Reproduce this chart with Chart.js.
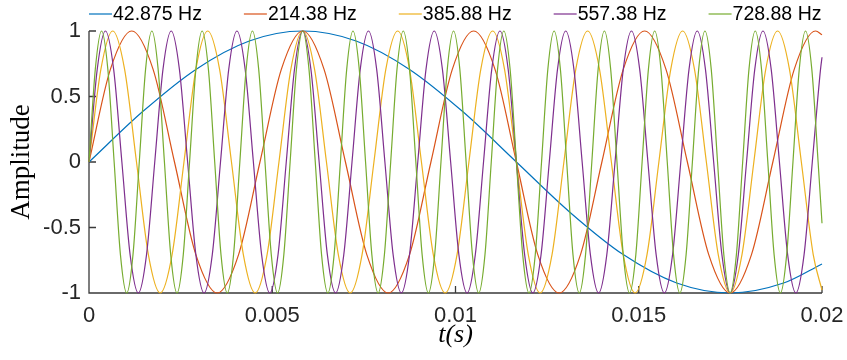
<!DOCTYPE html>
<html>
<head>
<meta charset="utf-8">
<title>Sine components</title>
<script src="https://cdn.jsdelivr.net/npm/chart.js@4.4.1/dist/chart.umd.min.js"></script>
<style>
  html, body { margin: 0; padding: 0; background: #fff; }
  #wrap { width: 847px; height: 360px; }
</style>
</head>
<body>
<div id="wrap"><canvas id="myChart" width="847" height="360"></canvas></div>
<script>
"use strict";

// legend labels and line colours (MATLAB default order)
const seriesNames = ["42.875 Hz", "214.38 Hz", "385.88 Hz", "557.38 Hz", "728.88 Hz"];
const seriesColors = ["#0072BD", "#D95319", "#EDB120", "#7E2F8E", "#77AC30"];

// axis ticks
const xTicks = [0, 0.005, 0.01, 0.015, 0.02];
const yTicks = [-1, -0.5, 0, 0.5, 1];

// sample times in ms (peaks, crossings and the points between)
const time1 = [0, 1.4577, 2.9155, 4.3732, 5.8309, 7.2886, 8.7464, 10.2041,
  11.6618, 13.1195, 14.5773, 16.0350, 17.4927, 18.9504, 20];
const amp1 = [0, 0.383, 0.707, 0.924, 1, 0.924, 0.707, 0.383,
  0, -0.383, -0.707, -0.924, -1, -0.924, -0.778];

const time2 = [0, 0.5831, 1.1662, 1.7493, 2.3324, 2.9155, 3.4985, 4.0816,
  4.6647, 5.2478, 5.8309, 6.4140, 6.9971, 7.5802, 8.1633, 8.7464,
  9.3294, 9.9125, 10.4956, 11.0787, 11.6618, 12.2449, 12.8280, 13.4111,
  13.9942, 14.5773, 15.1603, 15.7434, 16.3265, 16.9096, 17.4927, 18.0758,
  18.6589, 19.2420, 19.8251, 20];
const amp2 = [0, 0.707, 1, 0.707, 0, -0.707, -1, -0.707,
  0, 0.707, 1, 0.707, 0, -0.707, -1, -0.707,
  0, 0.707, 1, 0.707, 0, -0.707, -1, -0.707,
  0, 0.707, 1, 0.707, 0, -0.707, -1, -0.707,
  0, 0.707, 1, 0.972];

const time3 = [0, 0.3239, 0.6479, 0.9718, 1.2958, 1.6197, 1.9437, 2.2676,
  2.5915, 2.9155, 3.2394, 3.5634, 3.8873, 4.2112, 4.5352, 4.8591,
  5.1831, 5.5070, 5.8309, 6.1549, 6.4788, 6.8028, 7.1267, 7.4507,
  7.7746, 8.0985, 8.4225, 8.7464, 9.0704, 9.3943, 9.7183, 10.0422,
  10.3661, 10.6901, 11.0140, 11.3380, 11.6619, 11.9858, 12.3098, 12.6337,
  12.9577, 13.2816, 13.6056, 13.9295, 14.2534, 14.5774, 14.9013, 15.2253,
  15.5492, 15.8731, 16.1971, 16.5210, 16.8450, 17.1689, 17.4929, 17.8168,
  18.1407, 18.4647, 18.7886, 19.1126, 19.4365, 19.7604, 20];
const amp3 = [0, 0.707, 1, 0.707, 0, -0.707, -1, -0.707,
  0, 0.707, 1, 0.707, 0, -0.707, -1, -0.707,
  0, 0.707, 1, 0.707, 0, -0.707, -1, -0.707,
  0, 0.707, 1, 0.707, 0, -0.707, -1, -0.707,
  0, 0.707, 1, 0.707, 0, -0.707, -1, -0.707,
  0, 0.707, 1, 0.707, 0, -0.707, -1, -0.707,
  0, 0.707, 1, 0.707, 0, -0.707, -1, -0.707,
  0, 0.707, 1, 0.707, 0, -0.707, -0.978];

const time4 = [0, 0.2243, 0.4485, 0.6728, 0.8971, 1.1213, 1.3456, 1.5699,
  1.7941, 2.0184, 2.2427, 2.4669, 2.6912, 2.9155, 3.1397, 3.3640,
  3.5882, 3.8125, 4.0368, 4.2610, 4.4853, 4.7096, 4.9338, 5.1581,
  5.3824, 5.6066, 5.8309, 6.0552, 6.2794, 6.5037, 6.7280, 6.9522,
  7.1765, 7.4008, 7.6250, 7.8493, 8.0736, 8.2978, 8.5221, 8.7464,
  8.9706, 9.1949, 9.4192, 9.6434, 9.8677, 10.0920, 10.3162, 10.5405,
  10.7647, 10.9890, 11.2133, 11.4375, 11.6618, 11.8861, 12.1103, 12.3346,
  12.5589, 12.7831, 13.0074, 13.2317, 13.4559, 13.6802, 13.9045, 14.1287,
  14.3530, 14.5773, 14.8015, 15.0258, 15.2501, 15.4743, 15.6986, 15.9229,
  16.1471, 16.3714, 16.5957, 16.8199, 17.0442, 17.2685, 17.4927, 17.7170,
  17.9412, 18.1655, 18.3898, 18.6140, 18.8383, 19.0626, 19.2868, 19.5111,
  19.7354, 19.9596, 20];
const amp4 = [0, 0.707, 1, 0.707, 0, -0.707, -1, -0.707,
  0, 0.707, 1, 0.707, 0, -0.707, -1, -0.707,
  0, 0.707, 1, 0.707, 0, -0.707, -1, -0.707,
  0, 0.707, 1, 0.707, 0, -0.707, -1, -0.707,
  0, 0.707, 1, 0.707, 0, -0.707, -1, -0.707,
  0, 0.707, 1, 0.707, 0, -0.707, -1, -0.707,
  0, 0.707, 1, 0.707, 0, -0.707, -1, -0.707,
  0, 0.707, 1, 0.707, 0, -0.707, -1, -0.707,
  0, 0.707, 1, 0.707, 0, -0.707, -1, -0.707,
  0, 0.707, 1, 0.707, 0, -0.707, -1, -0.707,
  0, 0.707, 1, 0.707, 0, -0.707, -1, -0.707,
  0, 0.707, 0.8];

const time5 = [0, 0.1715, 0.3430, 0.5145, 0.6860, 0.8575, 1.0290, 1.2005,
  1.3720, 1.5435, 1.7150, 1.8865, 2.0580, 2.2295, 2.4010, 2.5725,
  2.7440, 2.9155, 3.0869, 3.2584, 3.4299, 3.6014, 3.7729, 3.9444,
  4.1159, 4.2874, 4.4589, 4.6304, 4.8019, 4.9734, 5.1449, 5.3164,
  5.4879, 5.6594, 5.8309, 6.0024, 6.1739, 6.3454, 6.5169, 6.6884,
  6.8599, 7.0314, 7.2029, 7.3744, 7.5459, 7.7174, 7.8889, 8.0604,
  8.2319, 8.4034, 8.5749, 8.7464, 8.9179, 9.0894, 9.2608, 9.4323,
  9.6038, 9.7753, 9.9468, 10.1183, 10.2898, 10.4613, 10.6328, 10.8043,
  10.9758, 11.1473, 11.3188, 11.4903, 11.6618, 11.8333, 12.0048, 12.1763,
  12.3478, 12.5193, 12.6908, 12.8623, 13.0338, 13.2053, 13.3768, 13.5483,
  13.7198, 13.8913, 14.0628, 14.2343, 14.4058, 14.5773, 14.7488, 14.9203,
  15.0918, 15.2633, 15.4347, 15.6062, 15.7777, 15.9492, 16.1207, 16.2922,
  16.4637, 16.6352, 16.8067, 16.9782, 17.1497, 17.3212, 17.4927, 17.6642,
  17.8357, 18.0072, 18.1787, 18.3502, 18.5217, 18.6932, 18.8647, 19.0362,
  19.2077, 19.3792, 19.5507, 19.7222, 19.8937, 20];
const amp5 = [0, 0.707, 1, 0.707, 0, -0.707, -1, -0.707,
  0, 0.707, 1, 0.707, 0, -0.707, -1, -0.707,
  0, 0.707, 1, 0.707, 0, -0.707, -1, -0.707,
  0, 0.707, 1, 0.707, 0, -0.707, -1, -0.707,
  0, 0.707, 1, 0.707, 0, -0.707, -1, -0.707,
  0, 0.707, 1, 0.707, 0, -0.707, -1, -0.707,
  0, 0.707, 1, 0.707, 0, -0.707, -1, -0.707,
  0, 0.707, 1, 0.707, 0, -0.707, -1, -0.707,
  0, 0.707, 1, 0.707, 0, -0.707, -1, -0.707,
  0, 0.707, 1, 0.707, 0, -0.707, -1, -0.707,
  0, 0.707, 1, 0.707, 0, -0.707, -1, -0.707,
  0, 0.707, 1, 0.707, 0, -0.707, -1, -0.707,
  0, 0.707, 1, 0.707, 0, -0.707, -1, -0.707,
  0, 0.707, 1, 0.707, 0, -0.707, -1, -0.707,
  0, 0.707, 1, 0.707, 0, -0.468];

const allTimes = [time1, time2, time3, time4, time5];
const allAmps = [amp1, amp2, amp3, amp4, amp5];

const tickColor = "#262626";
const sansFont = '"Liberation Sans", Arial, Helvetica, sans-serif';
const serifFont = '"Liberation Serif", "Times New Roman", serif';

// box-off axes with ticks pointing inwards, like MATLAB
const inwardAxes = {
    id: "inwardAxes",
    beforeDatasetsDraw(chart) {
        const ctx = chart.ctx;
        const a = chart.chartArea;
        const xs = chart.scales.x;
        const ys = chart.scales.y;
        ctx.save();
        ctx.strokeStyle = "#3a3a3a";
        ctx.lineWidth = 1.3;
        ctx.beginPath();
        ctx.moveTo(a.left, a.top);
        ctx.lineTo(a.left, a.bottom);
        ctx.lineTo(a.right, a.bottom);
        xs.ticks.forEach(t => {
            const px = xs.getPixelForValue(t.value);
            ctx.moveTo(px, a.bottom);
            ctx.lineTo(px, a.bottom - 7);
        });
        ys.ticks.forEach(t => {
            const py = ys.getPixelForValue(t.value);
            ctx.moveTo(a.left, py);
            ctx.lineTo(a.left + 7, py);
        });
        ctx.stroke();
        ctx.restore();
    }
};

// one-row legend across the top, line sample touching its text
const topLegend = {
    id: "topLegend",
    afterDraw(chart) {
        const ctx = chart.ctx;
        let x = chart.chartArea.left;
        const y = 14;
        ctx.save();
        ctx.font = "19.5px " + sansFont;
        ctx.textAlign = "left";
        ctx.textBaseline = "middle";
        chart.data.datasets.forEach(ds => {
            ctx.strokeStyle = ds.borderColor;
            ctx.lineWidth = 1.2;
            ctx.beginPath();
            ctx.moveTo(x, y);
            ctx.lineTo(x + 23, y);
            ctx.stroke();
            x += 24;
            ctx.fillStyle = "#000";
            ctx.fillText(ds.label, x, y + 1);
            x += ctx.measureText(ds.label).width + 42;
        });
        ctx.restore();
    }
};

function drawChart() {
    const datasets = seriesNames.map((name, i) => ({
        label: name,
        data: allTimes[i].map((t, j) => ({ x: t / 1000, y: allAmps[i][j] })),
        borderColor: seriesColors[i],
        backgroundColor: seriesColors[i],
        borderWidth: 1.2,
        pointRadius: 0,
        fill: false,
        cubicInterpolationMode: "monotone",
        clip: 4,
        order: seriesNames.length - i
    }));

    const ctx = document.querySelector("#myChart").getContext("2d");
    new Chart(ctx, {
        type: "line",
        data: { datasets: datasets },
        options: {
            responsive: false,
            animation: false,
            devicePixelRatio: 1,
            events: [],
            layout: { padding: { top: 31, right: 25, left: 0, bottom: 0 } },
            plugins: {
                legend: { display: false },
                tooltip: { enabled: false }
            },
            scales: {
                x: {
                    type: "linear",
                    min: xTicks[0],
                    max: xTicks[xTicks.length - 1],
                    grid: { display: false, drawTicks: false },
                    border: { display: false },
                    afterBuildTicks: scale => {
                        scale.ticks = xTicks.map(v => ({ value: v }));
                    },
                    ticks: {
                        color: tickColor,
                        font: { family: sansFont, size: 22 },
                        padding: 10,
                        maxRotation: 0,
                        autoSkip: false,
                        callback: v => String(v)
                    },
                    title: {
                        display: true,
                        text: "t(s)",
                        color: "#000",
                        font: { family: serifFont, size: 26, style: "italic" },
                        padding: { top: 0, bottom: 9 }
                    },
                    afterFit: scale => {
                        scale.height = 67;
                        scale.paddingLeft = 0;
                        scale.paddingRight = 0;
                    }
                },
                y: {
                    min: yTicks[0],
                    max: yTicks[yTicks.length - 1],
                    grid: { display: false, drawTicks: false },
                    border: { display: false },
                    afterBuildTicks: scale => {
                        scale.ticks = yTicks.map(v => ({ value: v }));
                    },
                    ticks: {
                        color: tickColor,
                        font: { family: sansFont, size: 22 },
                        padding: 8,
                        callback: v => String(v)
                    },
                    title: {
                        display: true,
                        text: "Amplitude",
                        color: "#000",
                        font: { family: serifFont, size: 27 },
                        padding: { top: 6, bottom: 0 }
                    },
                    afterFit: scale => {
                        scale.width = 89;
                        scale.paddingTop = 0;
                        scale.paddingBottom = 0;
                    }
                }
            }
        },
        plugins: [inwardAxes, topLegend]
    });
}

drawChart();
</script>
</body>
</html>
